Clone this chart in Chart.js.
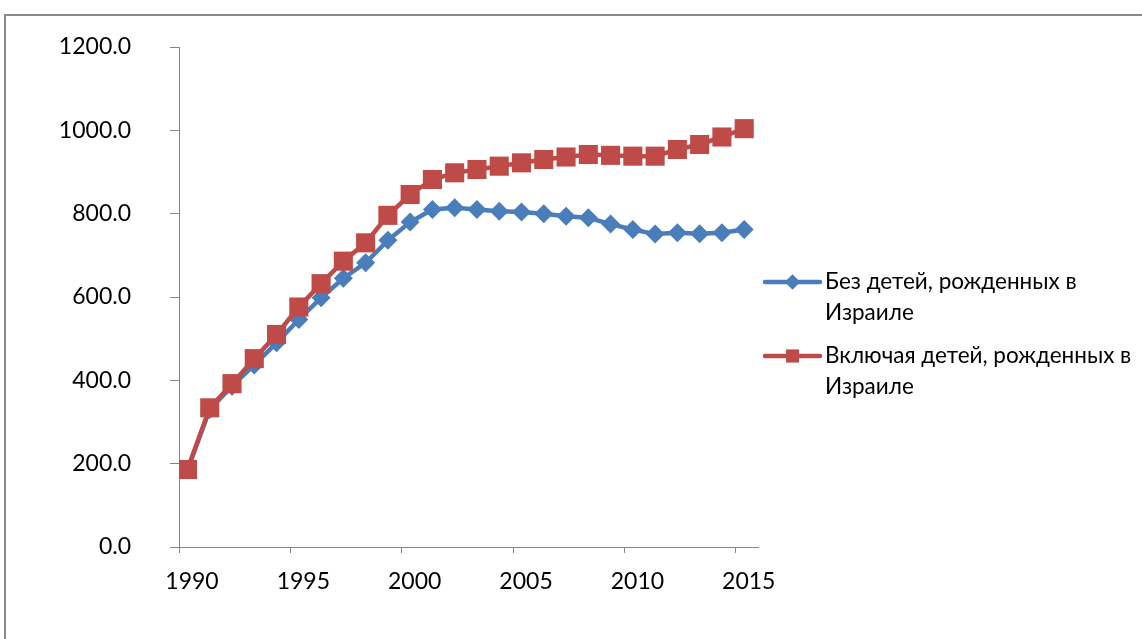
<!DOCTYPE html>
<html><head><meta charset="utf-8">
<script src="https://cdn.jsdelivr.net/npm/chart.js@4/dist/chart.umd.min.js"></script>
<style>
html,body{margin:0;padding:0;background:#fff;}
#wrap{position:relative;width:1142px;height:639px;overflow:hidden;background:#fff;}
#frame{position:absolute;left:4px;top:14px;width:1200px;height:700px;border-top:2px solid #8a8a8a;border-left:2px solid #8a8a8a;}
canvas{position:absolute;left:0;top:0;}
</style></head><body>
<div id="wrap"><div id="frame"></div><canvas id="c" width="1142" height="639"></canvas></div>
<script>
// ---- data ----
const years = [1990,1991,1992,1993,1994,1995,1996,1997,1998,1999,2000,2001,2002,2003,2004,2005,2006,2007,2008,2009,2010,2011,2012,2013,2014,2015];
const withoutIsraelBorn = [185,330,386,437,490,546,598,645,682,736,780,810,814,810,806,804,800,794,790,775,762,751,754,752,754,762];
const withIsraelBorn = [186,334,392,452,510,576,632,686,730,796,846,882,898,906,914,922,930,936,942,940,938,938,954,966,984,1004];
const seriesNames = ["Без детей, рожденных в Израиле", "Включая детей, рожденных в Израиле"];
const legendLines = [["Без детей, рожденных в","Израиле"],["Включая детей, рожденных в","Израиле"]];
const xTickLabels = [1990,1995,2000,2005,2010,2015];
const yTickLabels = [0,200,400,600,800,1000,1200];

const BLUE = '#4a7ebb', RED = '#be4b48', AXIS = '#868686';
const FONT = '"Lato", "Noto Sans", sans-serif';
const MID = 0.38; // where each year's value sits within the year

function pts(vals){ return years.map((y,i)=>({x:y+MID, y:vals[i]})); }

const sideLegend = {
  id:'sideLegend',
  afterDraw(chart){
    const ctx = chart.ctx, ca = chart.chartArea;
    const x0 = ca.right + 7, x1 = ca.right + 62, tx = ca.right + 67;
    const starts = [282, 356];
    const styles = [{c:BLUE, s:'rectRot', r:7.5},{c:RED, s:'rect', r:9}];
    ctx.save();
    legendLines.forEach((lines,i)=>{
      const y = starts[i], st = styles[i];
      ctx.strokeStyle = st.c; ctx.lineWidth = 4.5; ctx.lineCap='round';
      ctx.beginPath(); ctx.moveTo(x0,y); ctx.lineTo(x1,y); ctx.stroke();
      ctx.fillStyle = st.c;
      Chart.helpers.drawPoint(ctx,{pointStyle:st.s, radius:st.r, borderWidth:0},(x0+x1)/2,y);
      ctx.fill();
      ctx.fillStyle = '#000'; ctx.font = '22.5px ' + FONT; ctx.textBaseline='middle'; ctx.textAlign='left';
      lines.forEach((t,k)=> ctx.fillText(t, tx, y + k*31));
    });
    ctx.restore();
  }
};

new Chart(document.getElementById('c'), {
  type:'line',
  data:{ datasets:[
    { label:seriesNames[0], data:pts(withoutIsraelBorn), borderColor:BLUE, backgroundColor:BLUE,
      borderWidth:4.5, pointStyle:'rectRot', pointRadius:9.5, pointBorderWidth:0, pointBackgroundColor:BLUE, order:2 },
    { label:seriesNames[1], data:pts(withIsraelBorn), borderColor:RED, backgroundColor:RED,
      borderWidth:4.5, pointStyle:'rect', pointRadius:13.5, pointBorderWidth:0, pointBackgroundColor:RED, order:1 }
  ]},
  options:{
    responsive:false, animation:false,
    layout:{ padding:{ top:47, right:384, bottom:0, left:0 } },
    plugins:{ legend:{display:false}, tooltip:{enabled:false} },
    scales:{
      x:{ type:'linear', min:1990, max:2016,
          afterBuildTicks(s){ s.ticks = xTickLabels.map(v=>({value:v})); },
          afterFit(s){ s.height = 92; s.paddingLeft = 0; s.paddingRight = 0; },
          grid:{ drawOnChartArea:false, drawTicks:true, tickLength:6, color:AXIS, lineWidth:1 },
          border:{ display:true, color:AXIS, width:1 },
          ticks:{ padding:15, labelOffset:13, color:'#000', font:{family:FONT, size:23}, maxRotation:0, callback:v=>String(v) } },
      y:{ min:0, max:1200,
          afterBuildTicks(s){ s.ticks = yTickLabels.map(v=>({value:v})); },
          afterFit(s){ s.width = 179; s.paddingTop = 0; s.paddingBottom = 0; },
          grid:{ drawOnChartArea:false, drawTicks:true, tickLength:9, color:AXIS, lineWidth:1 },
          border:{ display:true, color:AXIS, width:1 },
          ticks:{ padding:39, color:'#000', font:{family:FONT, size:23}, callback:v=>Number(v).toFixed(1) } }
    }
  },
  plugins:[sideLegend]
});
</script>
</body></html>
